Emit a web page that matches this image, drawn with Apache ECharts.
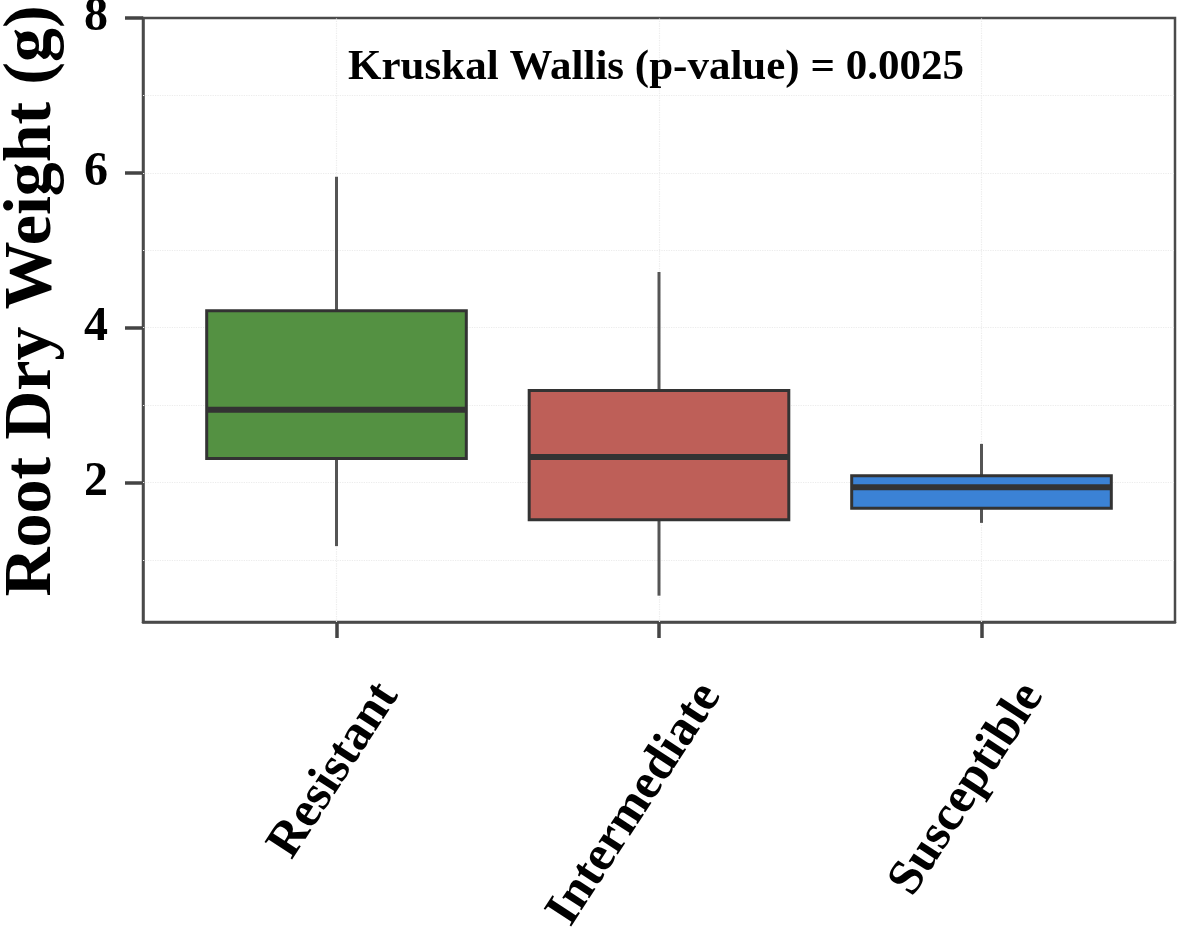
<!DOCTYPE html>
<html>
<head>
<meta charset="utf-8">
<script src="https://cdn.jsdelivr.net/npm/echarts@6/dist/echarts.min.js"></script>
<style>
  html, body { margin: 0; padding: 0; background: #ffffff; }
  #chart { width: 1181px; height: 943px; }
</style>
</head>
<body>
<div id="chart"></div>
<script>
// ---- data ----
const categories   = ['Resistant', 'Intermediate', 'Susceptible'];
const whiskerLow   = [1.18, 0.54, 1.48];
const q1Values     = [2.31, 1.52, 1.67];
const medianValues = [2.94, 2.33, 1.94];
const q3Values     = [4.22, 3.19, 2.09];
const whiskerHigh  = [5.95, 4.72, 2.50];
const yTickValues  = [2, 4, 6, 8];
const yGridValues  = [1, 2, 3, 4, 5, 6, 7];
const titleText    = 'Kruskal Wallis (p-value) = 0.0025';
const yAxisTitle   = 'Root Dry Weight (g)';

// ---- style ----
const boxColors = ['#549142', '#BE5F58', '#3B82D5'];
const boxWidthUnits = 0.805;
const labelShift = 0.16;
const serif = '"Liberation Serif", "Times New Roman", serif';

const catPositions = categories.map((c, i) => i + 1);
const boxData = categories.map((c, i) =>
  [catPositions[i], whiskerLow[i], q1Values[i], medianValues[i], q3Values[i], whiskerHigh[i]]);

const chart = echarts.init(document.getElementById('chart'), null, { renderer: 'canvas' });

chart.setOption({
  backgroundColor: '#ffffff',
  animation: false,
  grid: {
    left: 143, right: 6, top: 18, bottom: 321,
    outerBoundsMode: 'none', containLabel: false,
    show: true, borderColor: '#4a4a4a', borderWidth: 2.5, backgroundColor: 'transparent'
  },
  graphic: [{
    type: 'text', x: 656, y: 68, z: 10,
    style: {
      text: titleText, fill: '#000', textAlign: 'center', textVerticalAlign: 'middle',
      font: 'bold 43px ' + serif
    }
  }],
  xAxis: {
    type: 'value', min: 0.4, max: 3.6,
    axisLine: { show: true, onZero: false, lineStyle: { color: '#4a4a4a', width: 2.5 } },
    axisTick: { show: true, length: 16, customValues: catPositions, lineStyle: { color: '#444', width: 3.5 } },
    axisLabel: {
      customValues: catPositions.map(p => p + labelShift),
      rotate: 57, margin: 66,
      formatter: v => categories[Math.round(v - labelShift) - 1] || '',
      fontFamily: serif, fontWeight: 'bold', fontSize: 50, color: '#000'
    },
    splitLine: { show: false }
  },
  yAxis: {
    type: 'value', min: 0.2, max: 8,
    name: yAxisTitle, nameLocation: 'middle', nameGap: 77, nameRotate: 90,
    nameTextStyle: { fontFamily: serif, fontWeight: 'bold', fontSize: 68, color: '#000', padding: [0, 0, 0, 38] },
    axisLine: { show: true, lineStyle: { color: '#4a4a4a', width: 2.5 } },
    axisTick: { show: true, length: 18, customValues: yTickValues, lineStyle: { color: '#444', width: 3.5 } },
    axisLabel: {
      customValues: yTickValues, margin: 35,
      fontFamily: serif, fontWeight: 'bold', fontSize: 48, color: '#000'
    },
    splitLine: { show: false }
  },
  series: [
    {
      type: 'line', data: [], z: 1, silent: true,
      markLine: {
        silent: true, symbol: 'none', z: 1,
        label: { show: false },
        lineStyle: { color: '#ececec', type: 'dotted', width: 1.2 },
        data: yGridValues.map(v => ({ yAxis: v })).concat(catPositions.map(v => ({ xAxis: v })))
      }
    },
    {
      type: 'custom', z: 3, silent: true,
      encode: { x: 0, y: [1, 2, 3, 4, 5] },
      data: boxData,
      renderItem: function (params, api) {
        const x = api.value(0);
        const lo = api.coord([x, api.value(1)]);
        const q1 = api.coord([x, api.value(2)]);
        const md = api.coord([x, api.value(3)]);
        const q3 = api.coord([x, api.value(4)]);
        const hi = api.coord([x, api.value(5)]);
        const w = api.size([boxWidthUnits, 0])[0];
        return {
          type: 'group',
          children: [
            { type: 'line', shape: { x1: lo[0], y1: lo[1], x2: q1[0], y2: q1[1] }, style: { stroke: '#555', lineWidth: 3 } },
            { type: 'line', shape: { x1: q3[0], y1: q3[1], x2: hi[0], y2: hi[1] }, style: { stroke: '#555', lineWidth: 3 } },
            { type: 'rect', shape: { x: q3[0] - w / 2, y: q3[1], width: w, height: q1[1] - q3[1] },
              style: { fill: boxColors[params.dataIndex], stroke: '#333', lineWidth: 3 } },
            { type: 'line', shape: { x1: md[0] - w / 2, y1: md[1], x2: md[0] + w / 2, y2: md[1] },
              style: { stroke: '#333', lineWidth: 6 } }
          ]
        };
      }
    }
  ]
});
</script>
</body>
</html>
